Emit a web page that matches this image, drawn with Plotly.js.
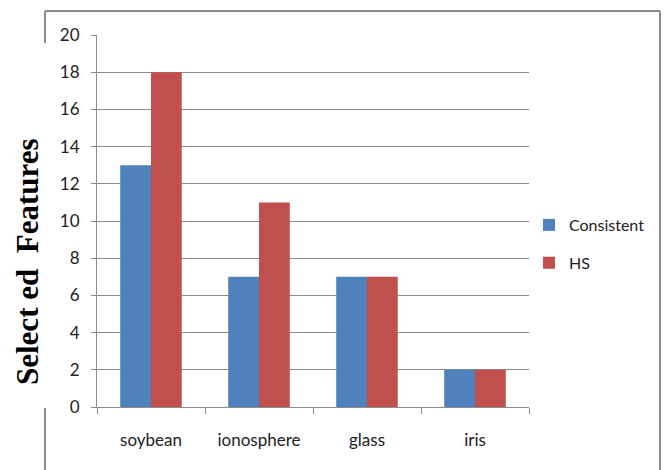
<!DOCTYPE html>
<html>
<head>
<meta charset="utf-8">
<script src="https://cdn.plot.ly/plotly-3.0.1.min.js"></script>
<style>
  html, body { margin: 0; padding: 0; background: #fff; }
  #chart { width: 667px; height: 470px; }
</style>
</head>
<body>
<div id="chart"></div>
<script>
// Number of features selected on each dataset
const datasets = ['soybean', 'ionosphere', 'glass', 'iris'];
const consistentValues = [13, 7, 7, 2];
const hsValues = [18, 11, 7, 2];
const yTicks = [0, 2, 4, 6, 8, 10, 12, 14, 16, 18, 20];

const labelFont = { family: 'Lato, "Liberation Sans", Arial, sans-serif', size: 17, color: '#222' };
const legendFont = Object.assign({}, labelFont, { size: 16 });
const frameColor = '#8c8c8c';

const traces = [
  {
    type: 'bar', name: 'Consistent', x: datasets, y: consistentValues,
    marker: { color: '#4F81BD' }, legendgroup: 'a', hoverinfo: 'x+y+name'
  },
  {
    type: 'bar', name: 'HS', x: datasets, y: hsValues,
    marker: { color: '#C0504D' }, legendgroup: 'b', hoverinfo: 'x+y+name'
  }
];

// plot area: x 97..529, y 35..407 (pixels)
const L = 97, R = 529, T = 35, B = 407;
const px = v => (v - L) / (R - L);
const py = v => (B - v) / (B - T);

const frame = { type: 'line', xref: 'paper', yref: 'paper', line: { color: frameColor, width: 2 } };

const layout = {
  width: 667, height: 470,
  margin: { l: L, r: 667 - R, t: T, b: 470 - B, pad: 0, autoexpand: false },
  paper_bgcolor: '#fff', plot_bgcolor: '#fff',
  font: labelFont,
  barmode: 'group', bargap: 0.43, bargroupgap: 0,
  showlegend: true,
  legend: {
    x: px(529), y: py(208), xanchor: 'left', yanchor: 'top',
    font: legendFont, traceorder: 'grouped', tracegroupgap: 14,
    bgcolor: 'rgba(0,0,0,0)', itemwidth: 30
  },
  xaxis: {
    type: 'category', showgrid: false, zeroline: false,
    showline: true, linecolor: frameColor, linewidth: 1,
    ticks: 'outside', tickson: 'boundaries', ticklen: 6, tickcolor: frameColor,
    ticklabelstandoff: 18, tickfont: labelFont, fixedrange: true
  },
  yaxis: {
    range: [0, 20], tickvals: yTicks, ticktext: yTicks.map(String),
    showgrid: true, gridcolor: frameColor, gridwidth: 1, zeroline: false,
    showline: true, linecolor: frameColor, linewidth: 1,
    ticks: 'outside', ticklen: 5, tickcolor: frameColor,
    ticklabelstandoff: 8, tickfont: labelFont, fixedrange: true
  },
  shapes: [
    Object.assign({}, frame, { x0: px(45), x1: px(660), y0: py(11), y1: py(11) }),
    Object.assign({}, frame, { x0: px(660), x1: px(660), y0: py(11), y1: py(475) }),
    Object.assign({}, frame, { x0: px(45), x1: px(45), y0: py(11), y1: py(43) }),
    Object.assign({}, frame, { x0: px(45), x1: px(45), y0: py(408), y1: py(475) })
  ],
  annotations: [{
    text: 'Select ed\u00a0 Features', textangle: -90,
    xref: 'paper', yref: 'paper', x: px(27), y: py(262),
    xanchor: 'center', yanchor: 'middle', showarrow: false,
    font: { family: '"Liberation Serif", "Times New Roman", serif', size: 31, color: '#000', weight: 'bold' }
  }]
};

Plotly.newPlot('chart', traces, layout, { displayModeBar: false });
</script>
</body>
</html>
